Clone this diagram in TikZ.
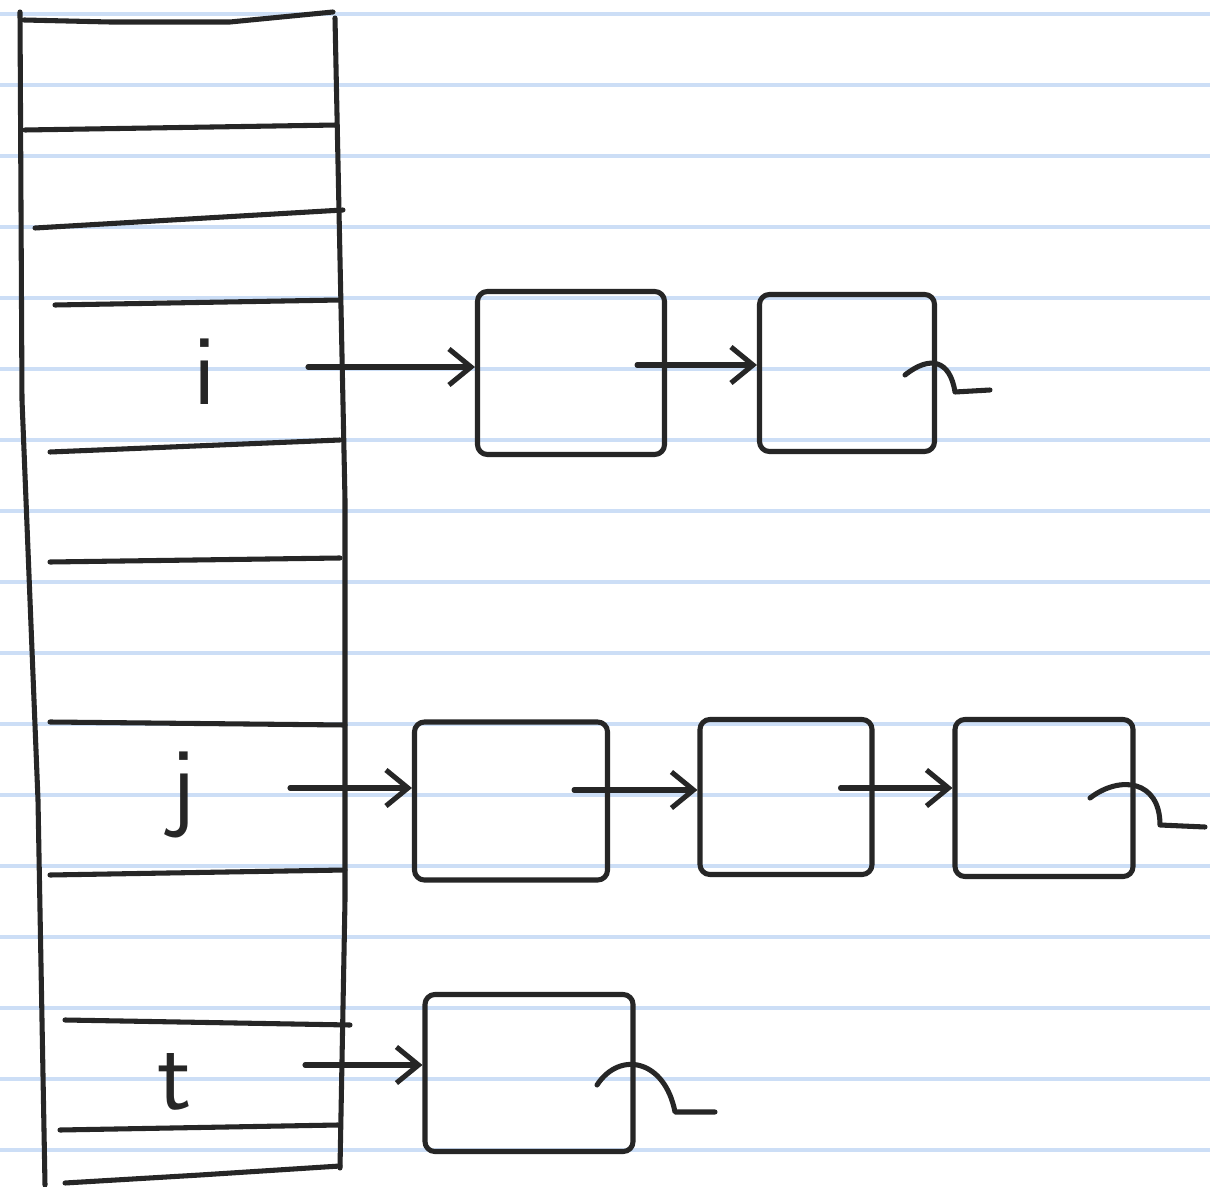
\documentclass[tikz,border=0pt]{standalone}
\usetikzlibrary{arrows.meta}
\definecolor{paperblue}{RGB}{204,222,246}
\begin{document}
\begin{tikzpicture}[x=0.025cm,y=-0.025cm,
  ink/.style={line width=3.6pt,draw=black!85,line cap=round,line join=round},
  paper/.style={line width=3.2pt,draw=paperblue},
  cell/.style={ink,rounded corners=7pt,rectangle,inner sep=0pt},
  ptr/.style={ink,-{Straight Barb[length=0.55cm,width=0.9cm,line width=3.6pt]}},
  lab/.style={font=\sffamily\fontsize{72}{72}\selectfont,text=black!85}]
\useasboundingbox (0,0) rectangle (1210,1187);
\fill[white] (0,0) rectangle (1210,1187);
\foreach \k in {0,...,16} \draw[paper] (0,14+71*\k) -- (1210,14+71*\k);
% table
\draw[ink] (20,12) -- (22,400) -- (38,800) -- (45,1185);
\draw[ink] (335,18) -- (345,500) -- (345,900) -- (340,1168);
\draw[ink] (24,20) -- (110,22) -- (230,22) -- (333,12);
\draw[ink] (65,1183) -- (200,1175) -- (340,1166);
\foreach \a/\b/\c/\d in {25/130/337/125, 35/228/343/210, 55/305/340/300, 50/452/340/440,
  50/562/340/558, 50/722/345/725, 50/875/345/870, 65/1020/350/1025, 60/1130/338/1125}
  \draw[ink] (\a,\b) -- (\c,\d);
% labels
\node[lab] (li) at (205,372) {i};
\node[lab] (lj) at (183,795) {j};
\node[lab] (lt) at (175,1082) {t};
\coordinate (si) at (308,367);
\coordinate (sj) at (290,788);
\coordinate (st) at (305,1065);
% row i
\node[cell,minimum width=187*0.025cm,minimum height=163*0.025cm] (i1) at (571,373) {};
\node[cell,minimum width=175*0.025cm,minimum height=157*0.025cm] (i2) at (847,373) {};
% row j
\node[cell,minimum width=193*0.025cm,minimum height=158*0.025cm] (j1) at (511,801) {};
\node[cell,minimum width=172*0.025cm,minimum height=155*0.025cm] (j2) at (786,797) {};
\node[cell,minimum width=178*0.025cm,minimum height=157*0.025cm] (j3) at (1044,798) {};
% row t
\node[cell,minimum width=208*0.025cm,minimum height=157*0.025cm] (t1) at (529,1073) {};
% pointers
\draw[ptr] (si) -- (i1.west |- si);
\draw[ptr] ([xshift=-30*0.025cm]i1.east |- 0,365) -- (i2.west |- 0,365);
\draw[ptr] (sj) -- (j1.west |- sj);
\draw[ptr] ([xshift=-36*0.025cm]j1.east |- 0,790) -- (j2.west |- 0,790);
\draw[ptr] ([xshift=-34*0.025cm]j2.east |- 0,788) -- (j3.west |- 0,788);
\draw[ptr] (st) -- (t1.west |- st);
% null terminators
\coordinate (ni) at (905,375);
\coordinate (nj) at (1090,798);
\coordinate (nt) at (597,1085);
\draw[ink] (ni) .. controls (930,355) and (950,360) .. (955,392) -- (990,390);
\draw[ink] (nj) .. controls (1120,775) and (1160,780) .. (1160,825) -- (1205,827);
\draw[ink] (nt) .. controls (620,1050) and (665,1060) .. (675,1112) -- (715,1112);
\end{tikzpicture}
\end{document}
